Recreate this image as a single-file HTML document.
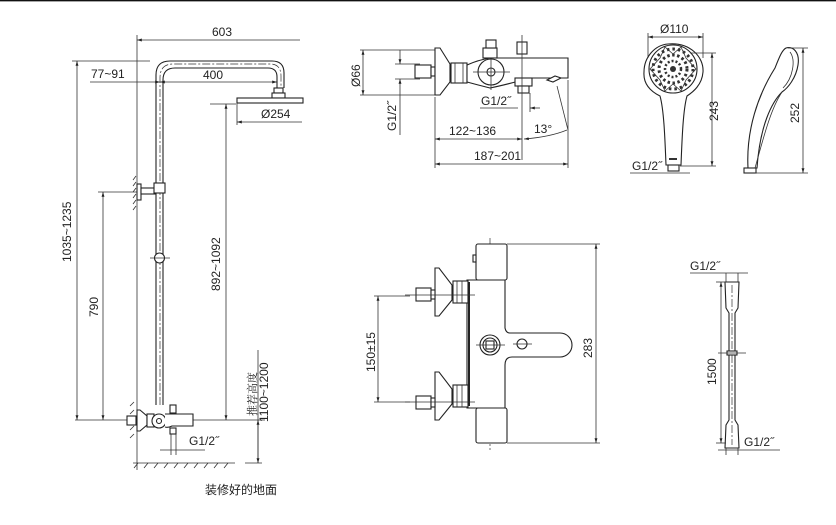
<!DOCTYPE html>
<html><head><meta charset="utf-8"><style>
html,body{margin:0;padding:0;background:#fff;}
svg{display:block;}
text{font-family:"Liberation Sans","Noto Sans CJK SC",sans-serif;fill:#222;font-size:12px;}
.s{stroke:#222;fill:none;stroke-width:1.1;}
.t{stroke:#333;fill:none;stroke-width:0.8;}
.c{stroke:#333;fill:none;stroke-width:0.7;stroke-dasharray:8 2 2 2;}
.w{stroke:#222;fill:#fff;stroke-width:1.1;}
</style></head><body>
<svg width="836" height="525" viewBox="0 0 836 525" xmlns="http://www.w3.org/2000/svg">
<defs>
<marker id="a" viewBox="0 0 10 10" refX="10" refY="5" markerWidth="6" markerHeight="6" orient="auto-start-reverse"><path d="M0,2 L10,5 L0,8 z" fill="#222"/></marker>
</defs>
<line x1="0" y1="0.7" x2="836" y2="0.7" stroke="#111" stroke-width="1.4"/>

<!-- ===== LEFT: shower column ===== -->
<line class="t" x1="137" y1="35" x2="137" y2="470"/>
<line class="t" x1="137" y1="40" x2="300" y2="40" marker-start="url(#a)"/>
<text x="212" y="36">603</text>
<line class="t" x1="90" y1="82" x2="137" y2="82"/>
<line class="t" x1="137" y1="82" x2="160" y2="82" marker-end="url(#a)"/>
<text x="91" y="78">77~91</text>
<line class="t" x1="160" y1="82" x2="277" y2="82" marker-start="url(#a)" marker-end="url(#a)"/>
<text x="203" y="79">400</text>
<path class="s" d="M156,405 V75 Q156,61 170,61 H272 Q284,61 284,73 V88"/>
<path class="s" d="M163,405 V80 Q163,68 175,68 H268 Q277,68 277,77 V88"/>
<path class="c" d="M160,405 V78 Q160,64 173,64 H270 Q281,64 281,76 V96"/>
<rect class="w" x="274" y="88" width="9" height="5"/>
<rect class="w" x="272" y="93" width="13" height="5"/>
<rect class="w" x="237" y="98" width="66" height="5"/>
<line class="t" x1="237" y1="103" x2="237" y2="125"/>
<line class="t" x1="237" y1="122" x2="302" y2="122" marker-start="url(#a)"/>
<text x="261" y="118">Ø254</text>
<line class="t" x1="210" y1="104" x2="236" y2="104"/>
<line class="t" x1="72" y1="61" x2="150" y2="61"/>
<line class="t" x1="77" y1="61" x2="77" y2="420" marker-start="url(#a)" marker-end="url(#a)"/>
<text transform="translate(71,262) rotate(-90)">1035~1235</text>
<line class="t" x1="98" y1="192" x2="140" y2="192"/>
<line class="t" x1="103" y1="192" x2="103" y2="420" marker-start="url(#a)" marker-end="url(#a)"/>
<text transform="translate(98,317) rotate(-90)">790</text>
<line class="t" x1="226" y1="104" x2="226" y2="420" marker-start="url(#a)" marker-end="url(#a)"/>
<text transform="translate(220,291) rotate(-90)">892~1092</text>
<line class="t" x1="258" y1="350" x2="258" y2="463"/>
<line class="t" x1="258" y1="420" x2="258" y2="463" marker-start="url(#a)" marker-end="url(#a)"/>
<text transform="translate(256,416) rotate(-90)" style="font-size:11px;font-family:'Noto Serif CJK SC',serif">推荐高度</text>
<text transform="translate(268,422) rotate(-90)">1100~1200</text>
<line class="t" x1="75" y1="420" x2="265" y2="420"/>
<path class="t" d="M136,176 l-3,4 M136,182 l-3,4 M136,188 l-3,4 M136,194 l-3,4 M136,200 l-3,4 M136,206 l-3,4"/>
<rect class="w" x="137" y="184" width="4" height="16"/>
<rect class="w" x="141" y="188" width="14" height="6"/>
<rect class="w" x="154" y="183" width="11" height="10"/>
<circle class="w" cx="159.5" cy="258" r="5"/>
<line class="t" x1="150" y1="258" x2="170" y2="258"/>
<path class="t" d="M134,402 l-4,4 M134,410 l-4,4 M134,418 l-4,4 M134,426 l-4,4 M134,434 l-4,4"/>
<path class="w" d="M137,410 L140,410 L147,416 L147,425 L140,431 L137,431 Z"/>
<rect class="w" x="127" y="416" width="9" height="9"/>
<rect class="w" x="147" y="414" width="7" height="13"/>
<circle class="w" cx="159" cy="421" r="7"/>
<circle class="w" cx="159" cy="421" r="2.5"/>
<path class="w" d="M165,414 H193 V426 H172 Q168,428 165,427"/>
<rect class="w" x="170" y="405" width="6" height="8"/>
<rect class="w" x="170" y="428" width="6" height="6"/>
<line class="t" x1="171" y1="434" x2="171" y2="455"/>
<line class="t" x1="176" y1="434" x2="176" y2="455"/>
<line class="t" x1="160" y1="450" x2="205" y2="450"/>
<text x="189" y="445">G1/2˝</text>
<line class="t" x1="133" y1="463" x2="235" y2="463"/>
<line class="t" x1="245" y1="463" x2="262" y2="463"/>
<path class="t" d="M138,463 l-4,5 M148,463 l-4,5 M158,463 l-4,5 M168,463 l-4,5 M178,463 l-4,5 M188,463 l-4,5 M198,463 l-4,5 M208,463 l-4,5 M218,463 l-4,5 M228,463 l-4,5"/>
<text x="205" y="494" style="font-size:12px;font-family:'Noto Sans CJK SC',sans-serif">装修好的地面</text>

<!-- ===== TOP MIDDLE ===== -->
<line class="t" x1="360" y1="50" x2="438" y2="50"/>
<line class="t" x1="360" y1="95" x2="438" y2="95"/>
<line class="t" x1="363" y1="50" x2="363" y2="95" marker-start="url(#a)" marker-end="url(#a)"/>
<text transform="translate(360,87) rotate(-90)">Ø66</text>
<line class="t" x1="400" y1="50" x2="400" y2="64" marker-end="url(#a)"/>
<line class="t" x1="400" y1="79" x2="400" y2="135" marker-start="url(#a)"/>
<line class="t" x1="395" y1="64" x2="420" y2="64"/>
<line class="t" x1="395" y1="79" x2="420" y2="79"/>
<text transform="translate(396,131) rotate(-90)">G1/2˝</text>
<rect class="w" x="415" y="65" width="16" height="13"/>
<rect class="w" x="431" y="67" width="4" height="9"/>
<path class="w" d="M435,48 L440,48 L450,64 L450,82 L440,95 L435,95 Z"/>
<rect class="w" x="451" y="63" width="16" height="20"/>
<line class="t" x1="455" y1="63" x2="455" y2="83"/><line class="t" x1="463" y1="63" x2="463" y2="83"/>
<path class="w" d="M467,65 Q478,60 490,58 H568 V78 H530 Q505,85 490,88 Q478,85 467,82 Z"/>
<circle class="w" cx="491" cy="72" r="13"/>
<circle class="w" cx="491" cy="72" r="4"/>
<line class="t" x1="473" y1="72" x2="510" y2="72"/>
<line class="t" x1="491" y1="55" x2="491" y2="90"/>
<rect class="w" x="483" y="48" width="14" height="10"/>
<rect class="w" x="486" y="40" width="10" height="8"/>
<rect class="w" x="517" y="42" width="10" height="12"/>
<rect class="w" x="515" y="78" width="17" height="8"/>
<rect class="w" x="518" y="86" width="11" height="7"/>
<line class="t" x1="522" y1="35" x2="522" y2="160"/>
<path class="w" d="M547,80 l8,-4 l6,2 l-8,4 z"/>
<line class="t" x1="530" y1="93" x2="530" y2="112"/>
<line class="t" x1="480" y1="108" x2="518" y2="108"/>
<line class="t" x1="530" y1="108" x2="540" y2="108" marker-start="url(#a)"/>
<text x="481" y="105">G1/2˝</text>
<line class="t" x1="435" y1="97" x2="435" y2="168"/>
<line class="t" x1="568" y1="80" x2="568" y2="168"/>
<line class="t" x1="557" y1="86" x2="568" y2="130"/>
<line class="t" x1="435" y1="139" x2="522" y2="139" marker-start="url(#a)" marker-end="url(#a)"/>
<text x="449" y="135">122~136</text>
<path class="t" d="M524,139 Q550,137 567,130" marker-start="url(#a)"/>
<text x="534" y="133">13°</text>
<line class="t" x1="435" y1="164" x2="568" y2="164" marker-start="url(#a)" marker-end="url(#a)"/>
<text x="474" y="160">187~201</text>

<!-- ===== hand shower front ===== -->
<line class="t" x1="648" y1="33" x2="648" y2="58"/>
<line class="t" x1="703" y1="33" x2="703" y2="58"/>
<line class="t" x1="648" y1="37" x2="703" y2="37" marker-start="url(#a)" marker-end="url(#a)"/>
<text x="660" y="33">Ø110</text>
<path class="s" d="M668,44 C690,42 704,57 703,72 C702,85 693,92 687,96 C683,110 682,140 681,165 H666 C665,140 664,110 660,96 C652,92 643,85 644,72 C644,57 655,45 668,44 Z"/>
<circle class="s" cx="673" cy="69" r="24"/>
<g fill="#333">
<circle cx="673" cy="69" r="3"/>
<g class="t">
<circle cx="673" cy="69" r="8" stroke-dasharray="2 2" stroke-width="2.5"/>
<circle cx="673" cy="69" r="14" stroke-dasharray="2.5 2.5" stroke-width="3"/>
<circle cx="673" cy="69" r="20" stroke-dasharray="2.5 3" stroke-width="3"/>
</g>
</g>
<path class="t" d="M650,69 L660,58 L665,47 L673,54 L681,47 L686,58 L696,69 L686,80 L681,91 L673,84 L665,91 L660,80 Z"/>
<rect x="669" y="158" width="8" height="2" fill="#333"/>
<rect class="w" x="668" y="165" width="11" height="6"/>
<line class="t" x1="630" y1="173" x2="690" y2="173"/>
<text x="632" y="170">G1/2˝</text>
<line class="t" x1="690" y1="53" x2="716" y2="53"/>
<line class="t" x1="680" y1="166" x2="716" y2="166"/>
<line class="t" x1="712" y1="53" x2="712" y2="166" marker-start="url(#a)" marker-end="url(#a)"/>
<text transform="translate(718,121) rotate(-90)">243</text>
<path class="s" d="M786,48 C793,46 800,52 798,65 C796,78 788,88 782,92 C772,102 760,125 757,168 H748 C746,130 758,95 775,68 C779,58 782,50 786,48 Z"/>
<path class="t" d="M782,92 C770,110 763,140 755,168"/>
<path class="t" d="M790,52 C796,60 793,78 783,88"/>
<rect class="w" x="744" y="168" width="12" height="5"/>
<line class="t" x1="788" y1="48" x2="808" y2="48"/>
<line class="t" x1="755" y1="173" x2="808" y2="173"/>
<line class="t" x1="803" y1="48" x2="803" y2="173" marker-start="url(#a)" marker-end="url(#a)"/>
<text transform="translate(799,123) rotate(-90)">252</text>

<!-- ===== thermostat front ===== -->
<line class="c" x1="490" y1="238" x2="490" y2="450"/>
<rect class="w" x="476" y="244" width="31" height="36" rx="2"/>
<rect class="w" x="473" y="255" width="3" height="7"/>
<rect class="w" x="476" y="408" width="31" height="35" rx="2"/>
<path class="w" d="M467,280 H505 V328 Q506,333 510,333 H560 A12,12 0 0 1 560,357 H512 Q505,357 505,365 V408 H467 Z"/>
<line x1="469" y1="282" x2="469" y2="406" stroke="#222" stroke-width="2"/>
<circle class="w" cx="490" cy="345" r="10"/>
<circle class="w" cx="490" cy="345" r="7"/>
<rect class="w" x="486" y="341" width="8" height="8"/>
<line class="t" x1="476" y1="345" x2="505" y2="345"/>
<circle class="w" cx="522" cy="344" r="5"/>
<line class="t" x1="513" y1="344" x2="532" y2="344"/>
<rect class="w" x="453" y="281" width="15" height="22"/>
<line class="t" x1="457" y1="281" x2="457" y2="303"/><line class="t" x1="462" y1="281" x2="462" y2="303"/>
<path class="w" d="M435,268 L439,268 L452,285 L452,300 L439,316 L435,316 Z"/>
<rect class="w" x="416" y="288" width="15" height="13"/>
<rect class="w" x="431" y="290" width="4" height="9"/>
<line class="t" x1="405" y1="295" x2="475" y2="295"/>
<rect class="w" x="453" y="385" width="15" height="22"/>
<line class="t" x1="457" y1="385" x2="457" y2="407"/><line class="t" x1="462" y1="385" x2="462" y2="407"/>
<path class="w" d="M435,372 L439,372 L452,389 L452,404 L439,420 L435,420 Z"/>
<rect class="w" x="416" y="396" width="15" height="13"/>
<rect class="w" x="431" y="398" width="4" height="9"/>
<line class="t" x1="405" y1="402" x2="475" y2="402"/>
<line class="t" x1="374" y1="296" x2="410" y2="296"/>
<line class="t" x1="374" y1="402" x2="410" y2="402"/>
<line class="t" x1="378" y1="296" x2="378" y2="402" marker-start="url(#a)" marker-end="url(#a)"/>
<text transform="translate(375,372) rotate(-90)">150±15</text>
<line class="t" x1="507" y1="244" x2="600" y2="244"/>
<line class="t" x1="507" y1="443" x2="600" y2="443"/>
<line class="t" x1="596" y1="244" x2="596" y2="443" marker-start="url(#a)" marker-end="url(#a)"/>
<text transform="translate(592,358) rotate(-90)">283</text>

<!-- ===== hose ===== -->
<line class="t" x1="690" y1="273" x2="748" y2="273"/>
<text x="690" y="270">G1/2˝</text>
<line class="t" x1="726" y1="273" x2="726" y2="282"/>
<line class="t" x1="738" y1="273" x2="738" y2="282"/>
<path class="s" d="M725,282 H739 L738,308 L735,313 V420 L738,425 L739,448 H725 L726,425 L729,420 V313 L726,308 Z"/>
<line class="c" x1="732" y1="285" x2="732" y2="445"/>
<rect class="w" x="727" y="351" width="10" height="4"/>
<line class="t" x1="718" y1="353" x2="746" y2="353"/>
<line class="t" x1="716" y1="282" x2="726" y2="282"/>
<line class="t" x1="716" y1="443" x2="726" y2="443"/>
<line class="t" x1="721" y1="282" x2="721" y2="443" marker-start="url(#a)" marker-end="url(#a)"/>
<text transform="translate(716,385) rotate(-90)">1500</text>
<line class="t" x1="718" y1="450" x2="780" y2="450"/>
<line class="t" x1="726" y1="448" x2="726" y2="455"/>
<line class="t" x1="738" y1="448" x2="738" y2="455"/>
<text x="744" y="446">G1/2˝</text>
</svg>
</body></html>
